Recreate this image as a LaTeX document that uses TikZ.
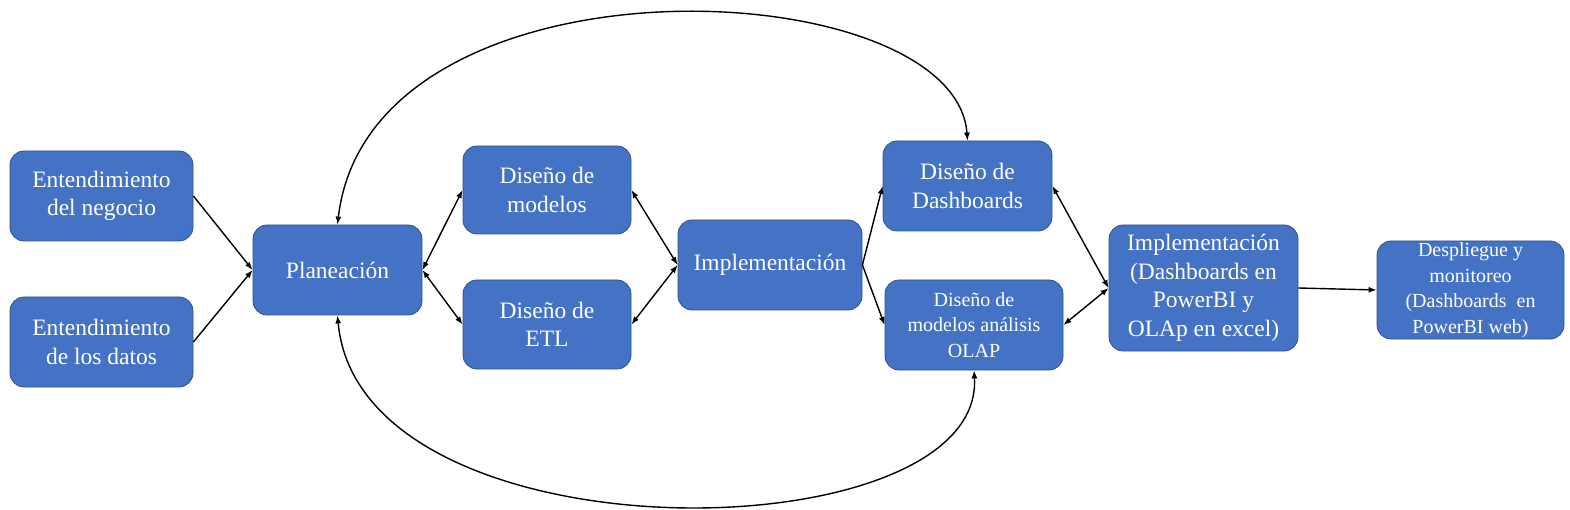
\documentclass[tikz,border=0pt]{standalone}
\usepackage{fontspec}
\setmainfont{Liberation Serif}
\usetikzlibrary{arrows.meta}
\definecolor{boxfill}{HTML}{4472C4}
\definecolor{boxborder}{HTML}{2F528F}
\tikzset{
  box/.style={draw=boxborder, fill=boxfill, rounded corners=14pt, text=white,
    align=center, inner sep=0pt, line width=0.8pt,
    font=\fontsize{23.5}{28.5}\selectfont},
  smallbox/.style={box, font=\fontsize{20}{25.5}\selectfont},
  conn/.style={line width=1.4pt, -{Latex[length=8pt,width=6pt]}},
  biconn/.style={line width=1.4pt, {Latex[length=8pt,width=6pt]}-{Latex[length=8pt,width=6pt]}}
}
\begin{document}
\begin{tikzpicture}[x=1pt,y=-1pt]
\useasboundingbox (0,0) rectangle (1570,510);
\node[box, minimum width=183pt, minimum height=90pt] (b1) at (101.5,196) {Entendimiento\\del negocio};
\node[box, minimum width=183pt, minimum height=90pt] (b2) at (101.5,342) {Entendimiento\\de los datos};
\node[box, minimum width=169pt, minimum height=90pt] (plan) at (337.5,270) {Planeación};
\node[box, minimum width=168pt, minimum height=88pt] (dm) at (547,190) {Diseño de\\modelos};
\node[box, minimum width=168pt, minimum height=89pt] (etl) at (547,324.5) {Diseño de\\ETL};
\node[box, minimum width=184pt, minimum height=90pt] (impl) at (770,265) {Implementación};
\node[box, minimum width=169pt, minimum height=90pt] (dd) at (967.5,186) {Diseño de\\Dashboards};
\node[smallbox, minimum width=178pt, minimum height=90pt] (olap) at (974,325) {Diseño de\\modelos análisis\\OLAP};
\node[box, minimum width=189pt, minimum height=126pt] (impl2) at (1203.5,288) {Implementación\\(Dashboards en\\PowerBI y\\OLAp en excel)};
\node[smallbox, minimum width=187pt, minimum height=98pt] (desp) at (1470.5,290) {Despliegue y\\monitoreo\\(Dashboards\ \ en\\PowerBI web)};

\draw[conn] (b1.east) -- (plan.west);
\draw[conn] (b2.east) -- (plan.west);
\draw[biconn] (plan.east) -- (dm.west);
\draw[biconn] (plan.east) -- (etl.west);
\draw[biconn] (dm.east) -- (impl.west);
\draw[biconn] (etl.east) -- (impl.west);
\draw[conn] (impl.east) -- (dd.west);
\draw[conn] (impl.east) -- (olap.west);
\draw[biconn] (dd.east) -- (impl2.west);
\draw[biconn] (olap.east) -- (impl2.west);
\draw[conn] (impl2.east) -- (desp.west);
\draw[biconn] (plan.north) .. controls (370,-55) and (955,-30) .. (dd.north);
\draw[biconn] (plan.south) .. controls (360,565) and (985,555) .. (olap.south);
\end{tikzpicture}
\end{document}
